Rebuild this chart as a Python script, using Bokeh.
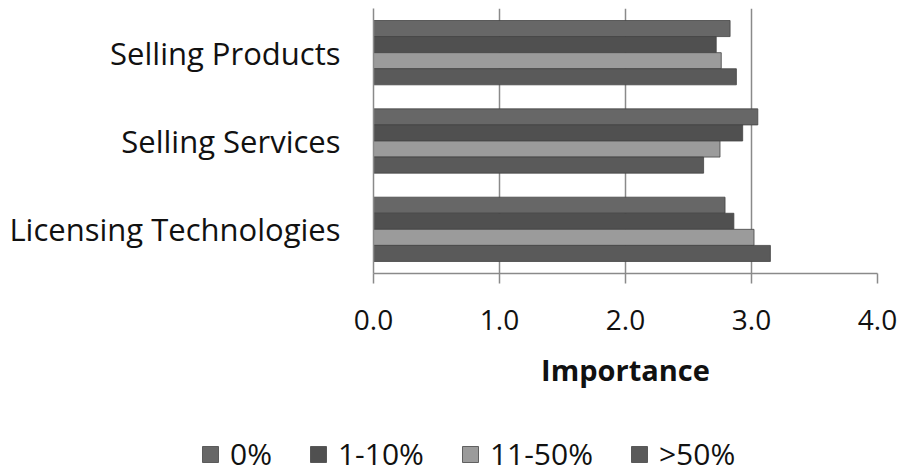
from bokeh.plotting import figure
from bokeh.layouts import column
from bokeh.models import FactorRange, FixedTicker, Legend, LegendItem, ColumnDataSource, NumeralTickFormatter
from bokeh.transform import dodge
from bokeh.embed import file_html
from bokeh.resources import INLINE

categories = ["Licensing Technologies", "Selling Services", "Selling Products"]
series = ["0%", "1-10%", "11-50%", ">50%"]
v_0 = [2.79, 3.05, 2.83]
v_1_10 = [2.86, 2.93, 2.72]
v_11_50 = [3.02, 2.75, 2.76]
v_50 = [3.15, 2.62, 2.88]
x_ticks = [0, 1, 2, 3, 4]

colors = ["#676767", "#505050", "#9b9b9b", "#5a5a5a"]
FONT = "Open Sans"
TXT = "#111111"
GRID = "#8a8a8a"

src = ColumnDataSource(dict(cat=categories, s0=v_0, s1=v_1_10, s2=v_11_50, s3=v_50))
keys = ["s0", "s1", "s2", "s3"]

H1 = 418
p = figure(width=900, height=H1, output_backend="svg", toolbar_location=None,
           y_range=FactorRange(factors=categories), x_range=(0, 4),
           min_border_left=373, min_border_right=23, min_border_top=8,
           min_border_bottom=H1 - 273)
p.outline_line_color = None
p.frame_align = False

bh = 0.182
offsets = [1.5 * bh, 0.5 * bh, -0.5 * bh, -1.5 * bh]
for k, off, c in zip(keys, offsets, colors):
    p.hbar(y=dodge("cat", off, range=p.y_range), right=k, left=0, height=bh,
           source=src, fill_color=c, line_color="#444444", line_width=0.8)

p.ygrid.grid_line_color = None
p.xgrid.grid_line_color = GRID
p.xgrid.grid_line_width = 1.5
p.xgrid.ticker = FixedTicker(ticks=x_ticks)

p.xaxis.ticker = FixedTicker(ticks=x_ticks)
p.xaxis.formatter = NumeralTickFormatter(format="0.0")
p.xaxis.axis_line_color = GRID
p.xaxis.axis_line_width = 1.5
p.xaxis.major_tick_line_color = GRID
p.xaxis.major_tick_line_width = 1.5
p.xaxis.major_tick_out = 10
p.xaxis.major_tick_in = 0
p.xaxis.minor_tick_line_color = None
p.xaxis.major_label_text_font = FONT
p.xaxis.major_label_text_font_size = "28px"
p.xaxis.major_label_text_color = TXT
p.xaxis.major_label_standoff = 26
p.xaxis.axis_label = "Importance"
p.xaxis.axis_label_text_font = FONT
p.xaxis.axis_label_text_font_style = "bold"
p.xaxis.axis_label_text_font_size = "29px"
p.xaxis.axis_label_text_color = TXT
p.xaxis.axis_label_standoff = 17

p.yaxis.axis_line_color = GRID
p.yaxis.axis_line_width = 1.5
p.yaxis.major_tick_line_color = None
p.yaxis.minor_tick_line_color = None
p.yaxis.major_label_text_font = FONT
p.yaxis.major_label_text_font_size = "31px"
p.yaxis.major_label_text_color = TXT
p.yaxis.major_label_standoff = 27

# legend strip: a second figure whose (hidden) renderers only feed the legend
H2 = 56
q = figure(width=900, height=H2, output_backend="svg", toolbar_location=None,
           x_range=(0, 4), y_range=FactorRange(factors=categories),
           min_border_left=0, min_border_right=0, min_border_top=0, min_border_bottom=0)
q.frame_align = False
q.outline_line_color = None
q.axis.visible = False
q.grid.visible = False
legend_renderers = []
for k, c in zip(keys, colors):
    r = q.hbar(y="cat", right=k, left=0, height=bh, source=src,
               fill_color=c, line_color="#444444", line_width=0.8)
    r.visible = False
    legend_renderers.append(r)
items = [LegendItem(label=s, renderers=[r]) for s, r in zip(series, legend_renderers)]
legend = Legend(items=items, orientation="horizontal", location=(200, 0),
                glyph_width=20, glyph_height=20, label_standoff=10, spacing=36,
                padding=0, margin=0, border_line_color=None, background_fill_alpha=0,
                inactive_fill_alpha=0, click_policy="none",
                label_text_font=FONT, label_text_font_size="30px", label_text_color=TXT)
q.add_layout(legend, "center")

layout = column(p, q, spacing=0)
open("out.html", "w").write(file_html(layout, INLINE))
